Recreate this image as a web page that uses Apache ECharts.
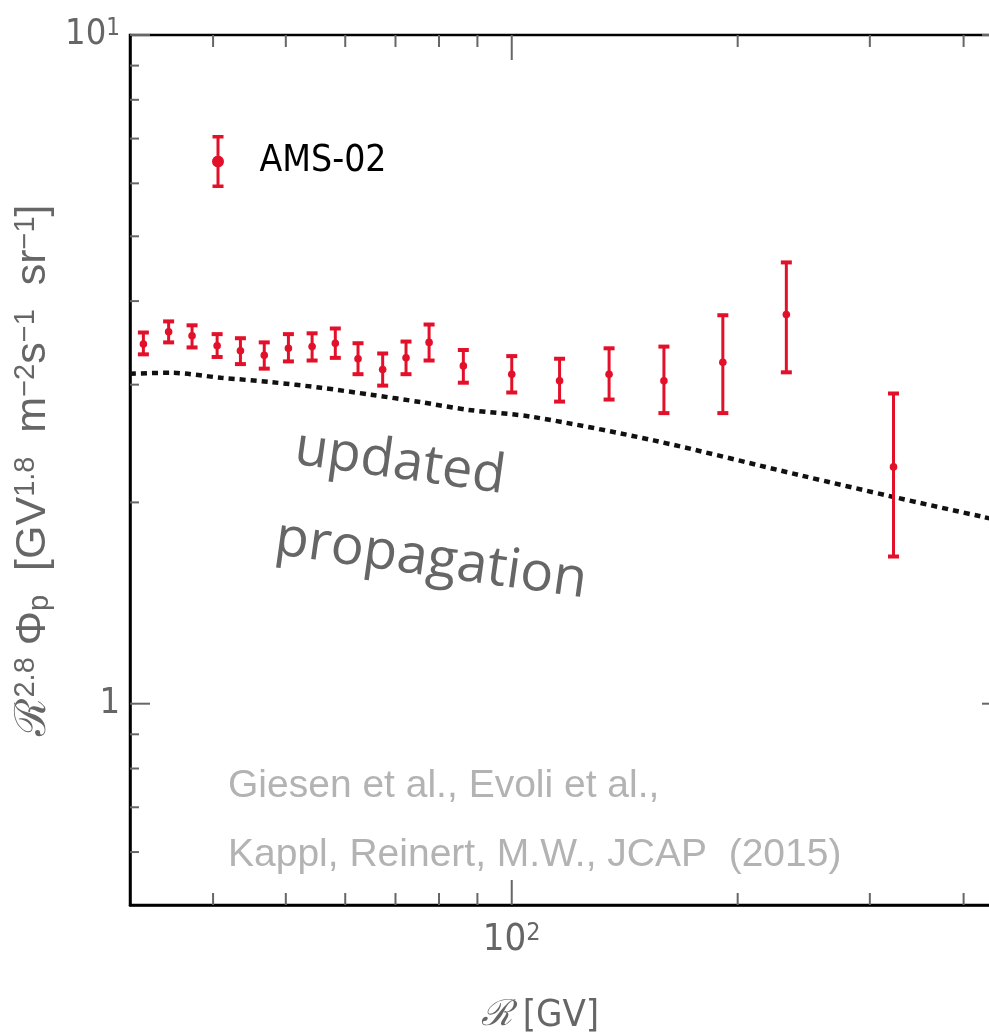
<!DOCTYPE html>
<html>
<head>
<meta charset="utf-8">
<script src="https://cdn.jsdelivr.net/npm/echarts@6/dist/echarts.min.js"></script>
<style>
  html, body { margin: 0; padding: 0; background: #fff; overflow: hidden; }
  /* plot frame continues past the right edge of the window, as in the original crop */
  #chart { width: 1002px; height: 1036px; }
</style>
</head>
<body>
<div id="chart"></div>
<script>
// AMS-02 proton flux (R^2.8 weighted)
const rigidity = [32.3, 34.9, 37.5, 40.5, 43.5, 46.8, 50.4, 54.2, 58.2, 62.4, 67.3, 72.3, 77.6, 86.2, 100, 115.8, 134.8, 159.5, 191.1, 232.2, 322.6]
const flux = [3.45, 3.60, 3.55, 3.43, 3.37, 3.32, 3.40, 3.42, 3.46, 3.28, 3.16, 3.29, 3.47, 3.20, 3.11, 3.04, 3.11, 3.04, 3.24, 3.82, 2.26]
const fluxLow = [3.33, 3.47, 3.41, 3.30, 3.22, 3.17, 3.25, 3.26, 3.29, 3.11, 2.99, 3.11, 3.26, 3.02, 2.92, 2.83, 2.85, 2.72, 2.72, 3.13, 1.66]
const fluxHigh = [3.59, 3.73, 3.68, 3.57, 3.52, 3.47, 3.57, 3.58, 3.64, 3.46, 3.34, 3.48, 3.69, 3.38, 3.31, 3.28, 3.40, 3.42, 3.81, 4.57, 2.91]

// propagation model curve
const modelRigidity = [31, 35.1, 41, 47.8, 55.7, 64.9, 75.6, 87.4, 107, 154.5, 242.6, 322.6, 425, 450]
const modelFlux = [3.115, 3.125, 3.072, 3.026, 2.968, 2.898, 2.825, 2.751, 2.683, 2.476, 2.195, 2.038, 1.902, 1.875]

// axis ranges and ticks
const X_MIN = 31, X_MAX = 450
const Y_MIN = 0.5, Y_MAX = 10
const xMajorTicks = [100]
const xMinorTicks = [40, 50, 60, 70, 80, 90, 200, 300, 400]
const yMajorTicks = [1, 10]
const yMinorTicks = [0.6, 0.7, 0.8, 0.9, 2, 3, 4, 5, 6, 7, 8, 9]

const RED = '#e3102a'
const GREY = '#666'
const NARROW = "'Liberation Sans Narrow', 'DejaVu Sans Condensed', sans-serif"
const SANS = "'Liberation Sans', sans-serif"

const chart = echarts.init(document.getElementById('chart'))

// tick items: [x, y, orient (0 = vertical, 1 = horizontal), direction, length]
const tickData = []
xMajorTicks.forEach(v => tickData.push([v, Y_MIN, 0, -1, 25], [v, Y_MAX, 0, 1, 25]))
xMinorTicks.forEach(v => tickData.push([v, Y_MIN, 0, -1, 12], [v, Y_MAX, 0, 1, 12]))
yMajorTicks.forEach(v => tickData.push([X_MIN, v, 1, 1, 20], [X_MAX, v, 1, -1, 20]))
yMinorTicks.forEach(v => tickData.push([X_MIN, v, 1, 1, 9], [X_MAX, v, 1, -1, 9]))

const pointData = rigidity.map((r, i) => [r, flux[i], fluxLow[i], fluxHigh[i]])
const modelData = modelRigidity.map((r, i) => [r, modelFlux[i]])

const isPow10 = v => Math.abs(Math.log10(v) - Math.round(Math.log10(v))) < 1e-6

const legendIcon = 'path://M1,0H12V3.5H1Z M1,49.5H12V53H1Z M5,0H8V53H5Z M6.5,20.5A6,6 0 1 1 6.49,20.5Z'

const option = {
  animation: false,
  grid: {
    left: 130, top: 35, right: 0, bottom: 131,
    outerBoundsMode: 'none',
    show: true, borderColor: '#000', borderWidth: 2.5
  },
  legend: {
    left: 212, top: 135, padding: 0,
    itemWidth: 13, itemHeight: 53,
    selectedMode: false,
    data: [{ name: 'AMS-02', icon: legendIcon, itemStyle: { color: RED } }],
    textStyle: { fontFamily: NARROW, fontSize: 37, color: '#000', padding: [0, 0, 0, 30] }
  },
  xAxis: {
    type: 'log', logBase: 10, min: X_MIN, max: X_MAX,
    axisLine: { lineStyle: { color: '#000', width: 2.5 } },
    axisTick: { show: false },
    splitLine: { show: false },
    axisLabel: {
      margin: 16,
      showMinLabel: true, showMaxLabel: true,
      formatter: v => isPow10(v) ? '{b|10}{s|' + Math.round(Math.log10(v)) + '}' : '',
      rich: {
        b: { fontFamily: NARROW, fontSize: 38, color: GREY },
        s: { fontFamily: NARROW, fontSize: 25, color: GREY, verticalAlign: 'top' }
      }
    },
    name: '{r|ℛ} [GV]',
    nameLocation: 'middle',
    nameGap: 92,
    nameTextStyle: {
      fontFamily: NARROW, fontSize: 38, color: GREY, padding: [0, 52, 0, 0],
      rich: { r: { fontFamily: 'DejaVu Serif', fontStyle: 'italic', fontSize: 36, color: GREY } }
    }
  },
  yAxis: {
    type: 'log', logBase: 10, min: Y_MIN, max: Y_MAX,
    axisLine: { lineStyle: { color: '#000', width: 2.5 } },
    axisTick: { show: false },
    splitLine: { show: false },
    axisLabel: {
      margin: 10,
      showMinLabel: true, showMaxLabel: true,
      formatter: v => {
        if (!isPow10(v)) return ''
        const e = Math.round(Math.log10(v))
        return e === 0 ? '{b|1}' : '{b|10}{s|' + e + '}'
      },
      rich: {
        b: { fontFamily: NARROW, fontSize: 36, color: GREY },
        s: { fontFamily: NARROW, fontSize: 24, color: GREY, verticalAlign: 'top' }
      }
    },
    name: '{m|ℛ}{s|2.8}{m| Φ}{d|p}{m|  [GV}{s|1.8}{m|  m}{s|−2}{m|s}{s|−1}{m|  sr}{s|−1}{m|]}',
    nameLocation: 'middle',
    nameRotate: 90,
    nameGap: 70,
    nameTextStyle: {
      rich: {
        m: { fontFamily: SANS, fontSize: 43, color: GREY },
        s: { fontFamily: SANS, fontSize: 29, color: GREY, verticalAlign: 'top' },
        d: { fontFamily: SANS, fontSize: 29, color: GREY, verticalAlign: 'bottom' }
      }
    }
  },
  graphic: [
    {
      type: 'text', x: 400, y: 463, rotation: -8 * Math.PI / 180,
      style: { text: 'updated', font: "54px 'Open Sans'", fill: '#666', align: 'center', verticalAlign: 'middle' }
    },
    {
      type: 'text', x: 431, y: 560, rotation: -8 * Math.PI / 180,
      style: { text: 'propagation', font: "55px 'Open Sans'", fill: '#666', align: 'center', verticalAlign: 'middle' }
    },
    {
      type: 'text', left: 228, top: 767,
      style: { text: 'Giesen et al., Evoli et al.,', font: "39px 'Liberation Sans'", fill: '#b3b3b3' }
    },
    {
      type: 'text', left: 228, top: 836,
      style: { text: 'Kappl, Reinert, M.W., JCAP  (2015)', font: "39px 'Liberation Sans'", fill: '#b3b3b3' }
    }
  ],
  series: [
    {
      name: 'model',
      type: 'line',
      data: modelData,
      smooth: 0.3,
      showSymbol: false,
      lineStyle: { color: '#111', width: 4.5, type: [6, 5], cap: 'butt' },
      z: 3
    },
    {
      name: 'AMS-02',
      type: 'custom',
      data: pointData,
      encode: { x: 0, y: 1 },
      itemStyle: { color: RED },
      z: 4,
      renderItem: (params, api) => {
        const x = api.value(0)
        const c = api.coord([x, api.value(1)])
        const lo = api.coord([x, api.value(2)])
        const hi = api.coord([x, api.value(3)])
        const style = { fill: RED }
        return {
          type: 'group',
          children: [
            { type: 'rect', shape: { x: c[0] - 1.5, y: hi[1], width: 3, height: lo[1] - hi[1] }, style },
            { type: 'rect', shape: { x: c[0] - 5.5, y: hi[1] - 2, width: 11, height: 4 }, style },
            { type: 'rect', shape: { x: c[0] - 5.5, y: lo[1] - 2, width: 11, height: 4 }, style },
            { type: 'circle', shape: { cx: c[0], cy: c[1], r: 3.8 }, style }
          ]
        }
      }
    },
    {
      name: 'ticks',
      type: 'custom',
      data: tickData,
      encode: { x: 0, y: 1 },
      silent: true,
      clip: false,
      z: 5,
      renderItem: (params, api) => {
        const p = api.coord([api.value(0), api.value(1)])
        const vertical = api.value(2) === 0
        const d = api.value(3) * api.value(4)
        return {
          type: 'line',
          shape: {
            x1: p[0], y1: p[1],
            x2: vertical ? p[0] : p[0] + d,
            y2: vertical ? p[1] + d : p[1]
          },
          style: { stroke: GREY, lineWidth: 2 }
        }
      }
    }
  ]
}

chart.setOption(option)
</script>
</body>
</html>
